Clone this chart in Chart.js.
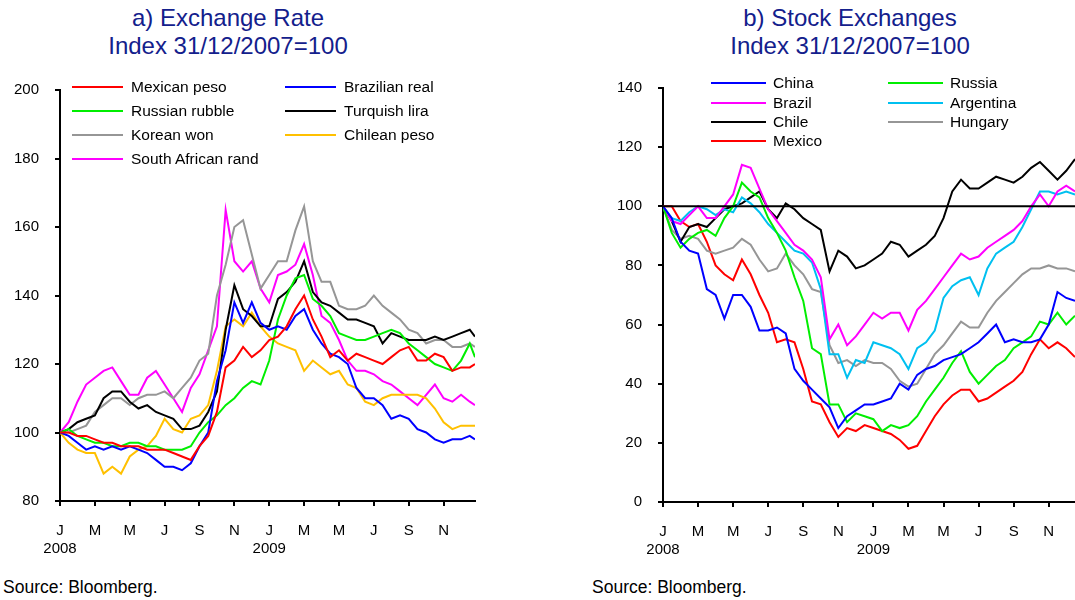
<!DOCTYPE html>
<html>
<head>
<meta charset="utf-8">
<script src="https://cdn.jsdelivr.net/npm/chart.js@4.4.1/dist/chart.umd.min.js"></script>
<style>
  body { margin: 0; width: 1075px; height: 600px; position: relative; overflow: hidden; background: #fff;
         font-family: "Liberation Sans", Arial, sans-serif; color: #000; }
  canvas { position: absolute; top: 0; }
  .title { position: absolute; top: 4px; width: 420px; text-align: center; font-size: 24px; line-height: 28px; color: #13208c; }
  .source { position: absolute; top: 577px; font-size: 17.5px; }
  .lg-item { position: absolute; height: 20px; display: flex; align-items: center; font-size: 15.5px; white-space: nowrap; }
  .lg-line { display: inline-block; height: 2px; }
</style>
</head>
<body>

<div class="title" style="left:18px">a) Exchange Rate<br>Index 31/12/2007=100</div>
<div class="title" style="left:640px">b) Stock Exchanges<br>Index 31/12/2007=100</div>

<canvas id="fxChart" width="500" height="560" style="left:0"></canvas>
<canvas id="stockChart" width="485" height="561" style="left:590px"></canvas>
<div id="fxLegend"></div>
<div id="stockLegend"></div>

<div class="source" style="left:3px">Source: Bloomberg.</div>
<div class="source" style="left:592px">Source: Bloomberg.</div>

<script>
// months since 1 Jan 2008, sampled twice a month
const fxMonths = [0, 0.5, 1, 1.5, 2, 2.5, 3, 3.5, 4, 4.5, 5, 5.5, 6, 6.5, 7, 7.5, 8, 8.5, 9, 9.5,
  10, 10.5, 11, 11.5, 12, 12.5, 13, 13.5, 14, 14.5, 15, 15.5, 16, 16.5, 17, 17.5, 18, 18.5, 19, 19.5,
  20, 20.5, 21, 21.5, 22, 22.5, 23, 23.5, 23.8];
const stockMonths = [0, 0.5, 1, 1.5, 2, 2.5, 3, 3.5, 4, 4.5, 5, 5.5, 6, 6.5, 7, 7.5, 8, 8.5, 9, 9.5,
  10, 10.5, 11, 11.5, 12, 12.5, 13, 13.5, 14, 14.5, 15, 15.5, 16, 16.5, 17, 17.5, 18, 18.5, 19, 19.5,
  20, 20.5, 21, 21.5, 22, 22.5, 23, 23.5];

// x axis: a tick every two months
const tickMonths  = [0, 2, 4, 6, 8, 10, 12, 14, 16, 18, 20, 22];
const tickLetters = ['J', 'M', 'M', 'J', 'S', 'N', 'J', 'M', 'M', 'J', 'S', 'N'];
const tickYears   = { 0: '2008', 12: '2009' };

// a) exchange rates, index 31/12/2007 = 100
const mexicanPeso = [100, 100, 99, 99, 98, 97, 97, 96, 96, 96, 95, 95, 95, 94, 93, 92, 96, 99, 106, 119,
  121, 125, 122, 124, 127, 128, 131, 136, 140, 133, 128, 122, 124, 121, 123, 122, 121, 120, 122, 124,
  125, 121, 121, 123, 122, 118, 119, 119, 120];
const brazilianReal = [100, 99, 97, 95, 96, 95, 96, 95, 96, 95, 94, 92, 90, 90, 89, 91, 96, 100, 115, 124,
  138, 132, 138, 132, 130, 131, 130, 134, 136, 130, 126, 123, 122, 120, 113, 110, 110, 108, 104, 105,
  104, 101, 100, 98, 97, 98, 98, 99, 98];
const russianRubble = [100, 101, 99, 98, 97, 97, 96, 96, 97, 97, 96, 96, 95, 95, 95, 96, 100, 103, 105, 108,
  110, 113, 115, 114, 121, 133, 140, 145, 146, 139, 137, 134, 129, 128, 127, 127, 128, 129, 130, 129,
  126, 124, 122, 120, 119, 118, 121, 126, 122];
const turkishLira = [100, 101, 103, 104, 105, 110, 112, 112, 109, 107, 108, 106, 105, 104, 101, 101, 102, 106, 112, 130,
  143, 136, 134, 131, 131, 139, 141, 144, 150, 141, 138, 137, 135, 133, 133, 132, 131, 126, 129, 128,
  127, 127, 127, 128, 127, 128, 129, 130, 128];
const koreanWon = [100, 100, 101, 102, 106, 108, 110, 110, 108, 110, 111, 111, 112, 110, 113, 116, 121, 123, 140, 149,
  160, 162, 152, 142, 146, 150, 150, 159, 166, 150, 144, 144, 137, 136, 136, 137, 140, 137, 135, 133,
  130, 129, 126, 127, 127, 125, 125, 126, 125];
const chileanPeso = [100, 97, 95, 94, 94, 88, 90, 88, 93, 95, 96, 99, 104, 101, 100, 104, 105, 108, 118, 131,
  133, 131, 135, 131, 128, 126, 125, 124, 118, 121, 119, 117, 118, 114, 113, 109, 108, 110, 111, 111,
  111, 111, 110, 107, 103, 101, 102, 102, 102];
const southAfricanRand = [100, 103, 109, 114, 116, 118, 119, 115, 111, 111, 116, 118, 114, 110, 106, 113, 117, 124, 131, 165,
  150, 147, 150, 142, 138, 146, 147, 149, 155, 146, 134, 132, 127, 121, 118, 118, 117, 115, 114, 112,
  110, 108, 111, 114, 110, 109, 111, 109, 108];

// b) stock exchanges, index 31/12/2007 = 100
const china = [100, 96, 88, 85, 84, 72, 70, 62, 70, 70, 66, 58, 58, 59, 57, 45, 41, 38, 35, 32,
  25, 29, 31, 33, 33, 34, 35, 40, 38, 43, 45, 46, 48, 49, 50, 52, 54, 57, 60, 54,
  55, 54, 54, 55, 60, 71, 69, 68];
const russia = [100, 91, 86, 89, 91, 92, 90, 96, 100, 108, 105, 103, 96, 91, 85, 76, 68, 52, 50, 33,
  33, 27, 30, 29, 28, 24, 26, 25, 26, 29, 34, 38, 42, 47, 51, 44, 40, 43, 46, 48,
  52, 54, 56, 61, 60, 64, 60, 63];
const brazil = [100, 95, 94, 97, 100, 96, 96, 100, 104, 114, 113, 106, 99, 95, 91, 87, 85, 82, 76, 55,
  60, 53, 56, 60, 64, 62, 64, 64, 58, 65, 68, 72, 76, 80, 84, 82, 83, 86, 88, 90,
  92, 95, 100, 104, 100, 105, 107, 105];
const argentina = [100, 96, 95, 98, 100, 99, 97, 99, 98, 103, 101, 98, 94, 91, 88, 85, 84, 81, 72, 50,
  50, 42, 48, 47, 54, 53, 52, 50, 45, 52, 54, 58, 69, 73, 75, 76, 70, 79, 84, 86,
  88, 93, 99, 105, 105, 104, 105, 104];
const chile = [100, 95, 88, 93, 94, 93, 96, 99, 100, 101, 103, 105, 99, 96, 101, 99, 96, 94, 92, 78,
  85, 83, 79, 80, 82, 84, 88, 87, 83, 85, 87, 90, 96, 105, 109, 106, 106, 108, 110, 109,
  108, 110, 113, 115, 112, 109, 112, 116];
const hungary = [100, 92, 89, 90, 89, 85, 84, 85, 86, 89, 87, 82, 78, 79, 84, 80, 77, 72, 71, 53,
  47, 48, 46, 48, 47, 47, 45, 41, 39, 40, 45, 50, 53, 57, 61, 59, 59, 64, 68, 71,
  74, 77, 79, 79, 80, 79, 79, 78];
const mexico = [100, 100, 95, 93, 94, 88, 80, 77, 75, 82, 77, 70, 64, 54, 55, 54, 45, 34, 33, 27,
  22, 25, 24, 26, 25, 24, 23, 21, 18, 19, 24, 29, 33, 36, 38, 38, 34, 35, 37, 39,
  41, 44, 50, 55, 52, 54, 52, 49];

// base level line across panel b
const baseMonths = [0, 23.5];
const baseLevel  = [100, 100];

const FONT = '"Liberation Sans", Arial, sans-serif';

function pts(months, values) {
    return values.map((v, i) => ({ x: months[i], y: v }));
}

function series(label, color, months, values) {
    return { label, borderColor: color, backgroundColor: color, data: pts(months, values) };
}

const fxSeries = [
    series('Mexican peso',       '#ff0000', fxMonths, mexicanPeso),
    series('Brazilian real',     '#0000ff', fxMonths, brazilianReal),
    series('Russian rubble',     '#00ee00', fxMonths, russianRubble),
    series('Turquish lira',      '#000000', fxMonths, turkishLira),
    series('Korean won',         '#969696', fxMonths, koreanWon),
    series('Chilean peso',       '#ffc000', fxMonths, chileanPeso),
    series('South African rand', '#ff00ff', fxMonths, southAfricanRand),
];

const stockSeries = [
    series('China',     '#0000ff', stockMonths, china),
    series('Russia',    '#00ee00', stockMonths, russia),
    series('Brazil',    '#ff00ff', stockMonths, brazil),
    series('Argentina', '#00c0f0', stockMonths, argentina),
    series('Chile',     '#000000', stockMonths, chile),
    series('Hungary',   '#969696', stockMonths, hungary),
    series('Mexico',    '#ff0000', stockMonths, mexico),
];

const baseLine = { label: '', borderColor: '#000', borderWidth: 2, data: pts(baseMonths, baseLevel) };

function tickLabel(v) {
    const letter = tickLetters[tickMonths.indexOf(v)];
    return tickYears[v] ? [letter, tickYears[v]] : letter;
}

function buildChart(canvasId, datasets, opts) {
    const axisLine = { display: true, color: '#000', width: 2 };
    const tickMarks = { display: true, drawOnChartArea: false, drawTicks: true, tickLength: 5, color: '#000', lineWidth: 2 };
    return new Chart(document.getElementById(canvasId), {
        type: 'line',
        data: { datasets },
        options: {
            responsive: false,
            animation: false,
            events: [],
            devicePixelRatio: 1,
            layout: { padding: opts.padding },
            elements: {
                line: { borderWidth: 2, tension: 0 },
                point: { radius: 0 },
            },
            plugins: { legend: { display: false }, tooltip: { enabled: false } },
            scales: {
                x: {
                    type: 'linear',
                    min: 0,
                    max: opts.xMax,
                    border: axisLine,
                    grid: tickMarks,
                    afterBuildTicks: s => { s.ticks = tickMonths.map(v => ({ value: v })); },
                    afterFit: s => { s.height = 59; },
                    ticks: {
                        padding: 16,
                        maxRotation: 0,
                        autoSkip: false,
                        color: '#000',
                        font: { family: FONT, size: 15, lineHeight: 1.2 },
                        callback: v => tickLabel(v),
                    },
                },
                y: {
                    min: opts.yMin,
                    max: opts.yMax,
                    border: axisLine,
                    grid: tickMarks,
                    afterFit: s => { s.width = opts.yAxisWidth; },
                    ticks: {
                        stepSize: 20,
                        padding: 16,
                        color: '#000',
                        font: { family: FONT, size: 15 },
                    },
                },
            },
        },
    });
}

// two-column legend laid over the top of each plot
function drawLegend(holderId, datasets, cols, rows, lineWidth, gap) {
    const holder = document.getElementById(holderId);
    holder.innerHTML = datasets.map((ds, i) => `
        <div class="lg-item" style="left:${cols[i % 2]}px; top:${rows[Math.floor(i / 2)] - 10}px">
            <span class="lg-line" style="width:${lineWidth}px; margin-right:${gap}px; background:${ds.borderColor}"></span>${ds.label}
        </div>`).join('');
}

buildChart('fxChart', fxSeries, {
    padding: { top: 90, right: 25, left: 0, bottom: 0 },
    xMax: 23.8, yMin: 80, yMax: 200, yAxisWidth: 60,
});

buildChart('stockChart', [baseLine, ...stockSeries], {
    padding: { top: 88, right: 0, left: 0, bottom: 0 },
    xMax: 23.5, yMin: 0, yMax: 140, yAxisWidth: 73,
});

drawLegend('fxLegend', fxSeries, [72, 285], [87, 111, 135, 159], 51, 8);
drawLegend('stockLegend', stockSeries, [711, 888], [83, 102.5, 122, 141], 55, 7);
</script>
</body>
</html>
